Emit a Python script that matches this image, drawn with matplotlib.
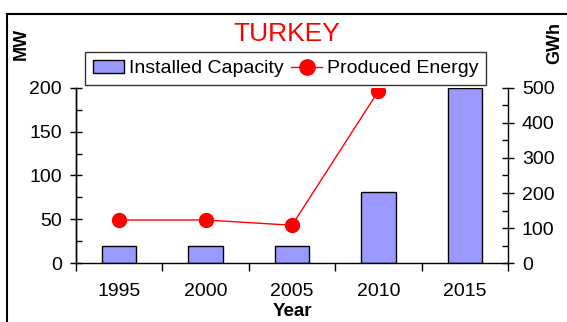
import matplotlib
matplotlib.use('Agg')
from matplotlib import pyplot as plt
from matplotlib.ticker import MultipleLocator
import numpy as np

plt.rcParams['font.family'] = ['Liberation Sans', 'DejaVu Sans']

years = ['1995', '2000', '2005', '2010', '2015']
capacity_mw = [20, 20, 19, 81, 200]
energy_gwh = [123, 123, 108, 491, np.nan]

fig = plt.figure(figsize=(5.67, 3.22), dpi=100)
ax = fig.add_axes([0.134, 0.183, 0.762, 0.544])
ax2 = ax.twinx()

x = np.arange(len(years))
bars = ax.bar(x, capacity_mw, width=0.4, color='#9999FF', edgecolor='black',
              linewidth=1, label='Installed Capacity', zorder=2)
line, = ax2.plot(x, energy_gwh, color='red', linewidth=1, marker='o',
                 markersize=10, label='Produced Energy', zorder=3)

ax.set_xlim(-0.5, 4.5)
ax.set_ylim(0, 200)
ax2.set_ylim(0, 500)

# left axis
ax.yaxis.set_major_locator(MultipleLocator(50))
ax.yaxis.set_minor_locator(MultipleLocator(25))
ax.tick_params(axis='y', which='major', direction='inout', length=8, width=1,
               labelsize=14, pad=6)
ax.tick_params(axis='y', which='minor', direction='in', length=4, width=1)

# right axis
ax2.yaxis.set_major_locator(MultipleLocator(100))
ax2.yaxis.set_minor_locator(MultipleLocator(50))
ax2.tick_params(axis='y', which='major', direction='inout', length=8, width=1,
                labelsize=14, pad=6)
ax2.tick_params(axis='y', which='minor', direction='in', length=4, width=1)

# x axis: ticks between categories, labels at centers
ax.set_xticks(x)
ax.set_xticklabels(years)
ax.set_xticks(np.arange(-0.5, 5.0, 1), minor=True)
ax.tick_params(axis='x', which='major', length=0, labelsize=14, pad=14)
ax.tick_params(axis='x', which='minor', direction='out', length=6, width=1)
ax.set_xlabel('Year', fontsize=13.5, fontweight='bold', labelpad=2.5)

for a in (ax, ax2):
    a.spines['top'].set_visible(False)
    for s in ('left', 'right', 'bottom'):
        a.spines[s].set_linewidth(1)
ax2.spines['bottom'].set_visible(False)
ax.spines['right'].set_visible(False)

fig.text(287 / 567, 1 - 34 / 322, 'TURKEY', color='red', fontsize=19, ha='center', va='center')
fig.text(21 / 567, 1 - 44 / 322, 'MW', rotation=90, fontsize=13, fontweight='bold',
         ha='center', va='center')
fig.text(555 / 567, 1 - 43 / 322, 'GWh', rotation=90, fontsize=13, fontweight='bold',
         ha='center', va='center')

leg = fig.legend([bars, line], ['Installed Capacity', 'Produced Energy'],
                 loc='upper left', bbox_to_anchor=(85 / 567, 1 - 52 / 322), ncol=2,
                 fontsize=14, frameon=True, fancybox=False, edgecolor='black',
                 borderpad=0.4, handlelength=1.6, handletextpad=0.25,
                 columnspacing=0.4, borderaxespad=0, handleheight=0.7,
                 markerscale=1.1)
leg.get_frame().set_linewidth(1)

# outer frame (top and left edges)
fig.add_artist(plt.Line2D([0.0132, 1.0], [0.958, 0.958], color='black', linewidth=1.5,
                          transform=fig.transFigure))
fig.add_artist(plt.Line2D([0.0132, 0.0132], [0.0, 0.958], color='black', linewidth=1.5,
                          transform=fig.transFigure))

fig.savefig('out.png', dpi=100)
